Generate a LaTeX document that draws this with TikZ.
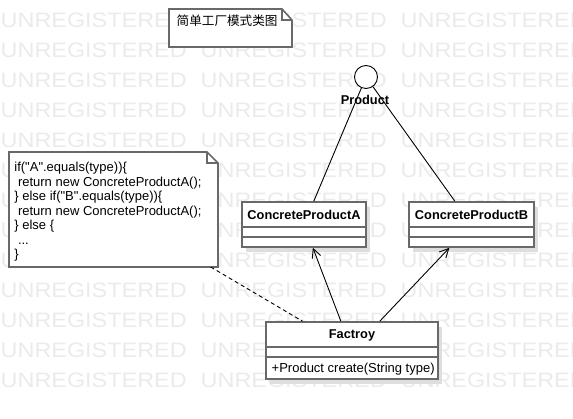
\documentclass[tikz,border=0pt]{standalone}
\usepackage{fontspec}
\setmainfont{Liberation Sans}
\newfontfamily\codefont{Liberation Sans}
\newfontfamily\cjk{Noto Sans CJK SC}
\usepackage{graphicx}
\usetikzlibrary{arrows.meta,shadows,calc}
\definecolor{bordergray}{RGB}{105,105,105}
\definecolor{shadowgray}{RGB}{222,222,222}
\definecolor{wmgray}{RGB}{235,235,235}
\begin{document}
\begin{tikzpicture}[x=1pt,y=-1pt,
  wm/.style={text=wmgray, inner sep=0pt, anchor=base west, font=\fontsize{20.9}{20.9}\selectfont},
  classbox/.style={draw=bordergray, line width=1.6pt, fill=white, inner sep=0pt,
    general shadow={fill=shadowgray, shadow xshift=4pt, shadow yshift=-5pt}},
  sepline/.style={draw=bordergray, line width=1.6pt},
  notebox/.style={inner sep=0pt, outer sep=0pt},
  noteline/.style={draw=bordergray, line width=1.6pt, line join=miter},
  boldlabel/.style={inner sep=0pt, font=\fontsize{12.8}{14}\selectfont\bfseries},
  plainlabel/.style={inner sep=0pt, font=\fontsize{13}{14.5}\selectfont},
  codetext/.style={inner sep=0pt, align=left, font=\codefont\fontsize{13}{14.5}\selectfont},
  conn/.style={draw=black, line width=0.9pt},
  arrowconn/.style={conn, -{Straight Barb[length=9pt,width=9pt]}},
  dashconn/.style={conn, dash pattern=on 4pt off 3pt}
]
\useasboundingbox (0,0) rectangle (573,419);
\fill[white] (0,0) rectangle (573,419);

% watermark
\begin{scope}
\clip (0,0) rectangle (573,419);
\foreach \r in {0,...,12}{
  \foreach \c in {0,1,2}{
    \node[wm] (wm-\r-\c) at ({0.5+200*\c},{28+30*\r}) {\scalebox{1.12}[1]{UNREGISTERED}};
  }
}
\end{scope}

% title note
\node[notebox, minimum width=123pt, minimum height=38pt] (title) at (230.5,28) {};
\filldraw[noteline, fill=white] (title.north west) -- ([xshift=-10pt]title.north east)
  -- ([yshift=-11pt]title.north east) -- (title.south east) -- (title.south west) -- cycle;
\draw[noteline] ([xshift=-10pt]title.north east) -- ([xshift=-10pt,yshift=-11pt]title.north east)
  -- ([yshift=-11pt]title.north east);
\node[anchor=base west, inner sep=0pt, font=\cjk\fontsize{12.6}{12.6}\selectfont] (titletext) at (176.5,25.8) {简单工厂模式类图};

% code note
\node[notebox, minimum width=209pt, minimum height=115pt] (codenote) at (113.5,209.5) {};
\filldraw[noteline, fill=white] (codenote.north west) -- ([xshift=-11pt]codenote.north east)
  -- ([yshift=-11pt]codenote.north east) -- (codenote.south east) -- (codenote.south west) -- cycle;
\draw[noteline] ([xshift=-11pt]codenote.north east) -- ([xshift=-11pt,yshift=-11pt]codenote.north east)
  -- ([yshift=-11pt]codenote.north east);
\node[codetext, anchor=north west] (code) at (14.2,161.5) {\rule{0pt}{10pt}if("A".equals(type))\{\\
~return new ConcreteProductA();\\
\} else if("B".equals(type))\{\\
~return new ConcreteProductA();\\
\} else \{\\
~...\\
\}};

% interface Product
\node[circle, draw=black, line width=0.9pt, fill=white, minimum size=23pt, inner sep=0pt] (prod) at (366,77) {};

% classes
\node[classbox, minimum width=124pt, minimum height=45pt] (cpa) at (304,224.5) {};
\draw[sepline] ([yshift=-2.5pt]cpa.west) -- ([yshift=-2.5pt]cpa.east);
\draw[sepline] ([yshift=-12.5pt]cpa.west) -- ([yshift=-12.5pt]cpa.east);
\node[boldlabel, anchor=base] (cpaname) at (304,220) {ConcreteProductA};

\node[classbox, minimum width=125pt, minimum height=45pt] (cpb) at (471.5,224.5) {};
\draw[sepline] ([yshift=-2.5pt]cpb.west) -- ([yshift=-2.5pt]cpb.east);
\draw[sepline] ([yshift=-12.5pt]cpb.west) -- ([yshift=-12.5pt]cpb.east);
\node[boldlabel, anchor=base] (cpbname) at (471.5,220) {ConcreteProductB};

\node[classbox, minimum width=172pt, minimum height=57pt] (fac) at (352,350.5) {};
\draw[sepline] ([yshift=3.5pt]fac.west) -- ([yshift=3.5pt]fac.east);
\draw[sepline] ([yshift=-6.5pt]fac.west) -- ([yshift=-6.5pt]fac.east);
\node[boldlabel, anchor=base] (facname) at (352,339) {Factroy};
\node[plainlabel, anchor=base west] (facop) at (271.5,373) {+Product create(String type)};

% connectors
\draw[conn] (prod) -- (cpa);
\draw[conn] (prod) -- (cpb);
\draw[arrowconn] (fac) -- (cpa);
\draw[arrowconn] (fac) -- (cpb);
\draw[dashconn] (codenote) -- (fac);

\node[boldlabel, anchor=base] (prodlabel) at (365,105) {Product};
\end{tikzpicture}
\end{document}
